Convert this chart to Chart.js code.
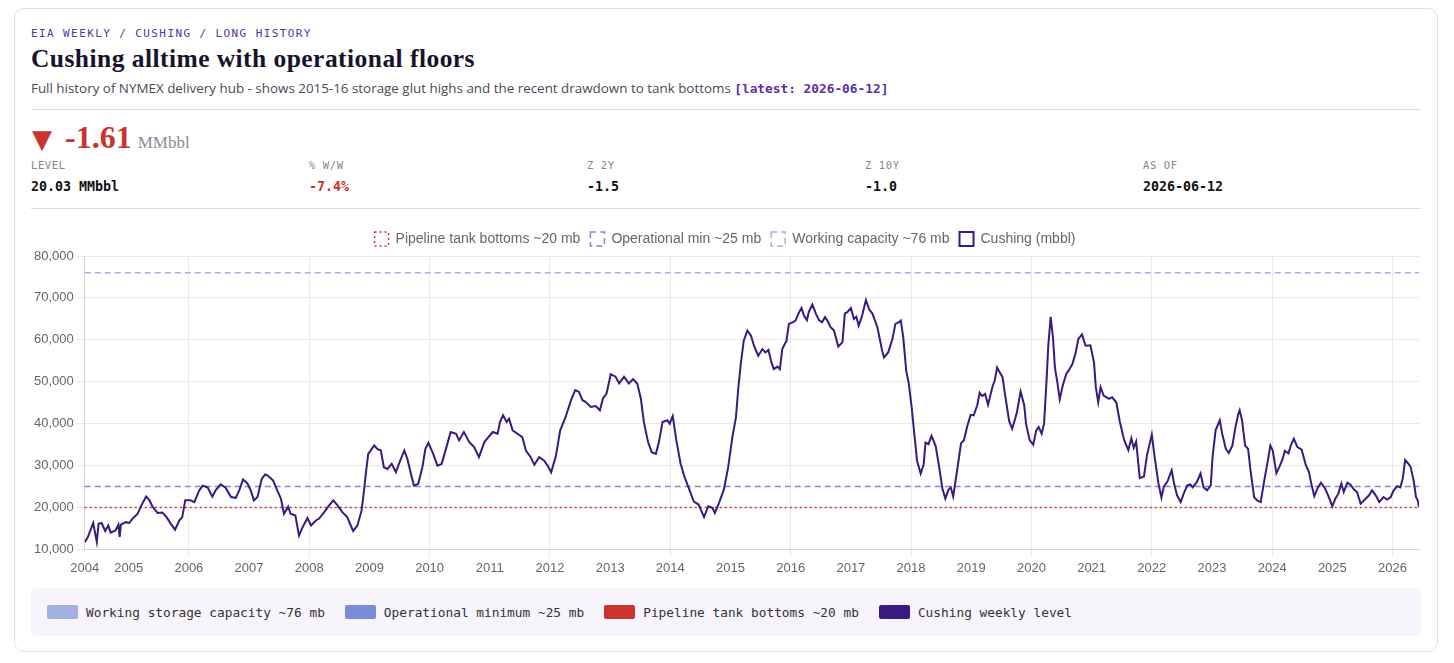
<!DOCTYPE html>
<html>
<head>
<meta charset="utf-8">
<title>Cushing alltime with operational floors</title>
<script src="https://cdn.jsdelivr.net/npm/chart.js@4.4.1/dist/chart.umd.min.js"></script>
<style>
  body { margin: 0; background: #fff; font-family: "Open Sans", "Noto Sans", sans-serif; }
  .card {
    position: absolute; left: 14px; top: 8px; width: 1390px; height: 611px;
    padding: 18px 16px 13px; border: 1px solid #e2dfea; border-radius: 10px; background: #fff;
  }
  .kicker { font: 11px/14px "DejaVu Sans Mono", monospace; letter-spacing: 1.4px; color: #5b2fa8; height: 14px; }
  h1 { margin: 4px 0 0; font: bold 25.5px/28px Georgia, "Liberation Serif", serif; letter-spacing: 0.45px; color: #17132b; }
  .sub { margin-top: 6px; font-size: 13.4px; line-height: 18px; color: #4a4a55; white-space: nowrap; }
  .sub .tag { font-family: "DejaVu Sans Mono", monospace; font-weight: bold; color: #5b2fa8; font-size: 12.8px; }
  .rule { height: 1px; background: #dcd8ea; }
  .delta { margin-top: 10px; height: 34px; line-height: 34px; color: #c9342f; }
  .delta .tri { font: 26px/34px "DejaVu Sans", sans-serif; margin-left: 1px; }
  .delta .num { font: bold 32px/34px Georgia, "Liberation Serif", serif; margin-left: 13px; }
  .delta .unit { font: 17px/34px Georgia, "Liberation Serif", serif; color: #8c8a9a; margin-left: 6px; }
  .stats { display: grid; grid-template-columns: repeat(5, 1fr); margin-top: 5px; height: 49px; }
  .stats .lab { font: 10.5px/13px "DejaVu Sans Mono", monospace; letter-spacing: 0.6px; color: #85838f; }
  .stats .val { margin-top: 6px; font: bold 13.3px/17px "DejaVu Sans Mono", monospace; color: #111; }
  .stats .neg { color: #c9342f; }
  .wrap { position: relative; width: 1390px; height: 357px; margin-top: 13px; }
  .keys {
    display: flex; align-items: center; height: 48px; margin-top: 9px; padding: 0 16px;
    background: #f7f5fb; border-radius: 6px; font: 12.8px "DejaVu Sans Mono", monospace; color: #333;
  }
  .keys span.sw { display: inline-block; width: 31px; height: 14px; border-radius: 2px; margin-right: 8px; vertical-align: -2px; }
  .keys .item { margin-right: 20px; }
</style>
</head>
<body>
<div class="card">
  <div class="kicker">EIA WEEKLY / CUSHING / LONG HISTORY</div>
  <h1>Cushing alltime with operational floors</h1>
  <div class="sub">Full history of NYMEX delivery hub - shows 2015-16 storage glut highs and the recent drawdown to tank bottoms <span class="tag">[latest: 2026-06-12]</span></div>
  <div class="rule" style="margin-top:11px"></div>
  <div class="delta"><span class="tri">&#9660;</span><span class="num">-1.61</span><span class="unit">MMbbl</span></div>
  <div class="stats">
    <div><div class="lab">LEVEL</div><div class="val">20.03 MMbbl</div></div>
    <div><div class="lab">% W/W</div><div class="val neg">-7.4%</div></div>
    <div><div class="lab">Z 2Y</div><div class="val">-1.5</div></div>
    <div><div class="lab">Z 10Y</div><div class="val">-1.0</div></div>
    <div><div class="lab">AS OF</div><div class="val">2026-06-12</div></div>
  </div>
  <div class="rule"></div>
  <div class="wrap"><canvas id="myChart"></canvas></div>
  <div class="keys">
    <div class="item"><span class="sw" style="background:#a3b1e3"></span>Working storage capacity ~76 mb</div>
    <div class="item"><span class="sw" style="background:#7b8bd6"></span>Operational minimum ~25 mb</div>
    <div class="item"><span class="sw" style="background:#c9342f"></span>Pipeline tank bottoms ~20 mb</div>
    <div class="item"><span class="sw" style="background:#3b1a80"></span>Cushing weekly level</div>
  </div>
</div>
<script>
// weekly samples, as fractional years
const years = [
  2004.27, 2004.32, 2004.41, 2004.47, 2004.50, 2004.55, 2004.61, 2004.66, 2004.70, 2004.78,
  2004.83, 2004.85, 2004.87, 2004.95, 2005.01, 2005.06, 2005.15, 2005.20, 2005.29, 2005.34,
  2005.40, 2005.48, 2005.56, 2005.63, 2005.70, 2005.77, 2005.84, 2005.89, 2005.94, 2006.03,
  2006.09, 2006.17, 2006.23, 2006.31, 2006.39, 2006.45, 2006.53, 2006.61, 2006.70, 2006.78,
  2006.84, 2006.90, 2006.97, 2007.03, 2007.08, 2007.14, 2007.21, 2007.27, 2007.33, 2007.40,
  2007.47, 2007.53, 2007.58, 2007.65, 2007.69, 2007.77, 2007.83, 2007.89, 2007.97, 2008.03,
  2008.11, 2008.16, 2008.25, 2008.33, 2008.40, 2008.47, 2008.55, 2008.63, 2008.69, 2008.73,
  2008.80, 2008.87, 2008.90, 2008.94, 2008.98, 2009.08, 2009.13, 2009.19, 2009.24, 2009.30,
  2009.37, 2009.44, 2009.49, 2009.58, 2009.63, 2009.69, 2009.74, 2009.81, 2009.88, 2009.93,
  2009.98, 2010.06, 2010.13, 2010.20, 2010.28, 2010.35, 2010.44, 2010.49, 2010.57, 2010.66,
  2010.74, 2010.82, 2010.91, 2010.99, 2011.05, 2011.13, 2011.17, 2011.22, 2011.28, 2011.32,
  2011.38, 2011.46, 2011.54, 2011.60, 2011.68, 2011.74, 2011.82, 2011.90, 2011.96, 2012.02,
  2012.10, 2012.17, 2012.26, 2012.35, 2012.42, 2012.48, 2012.54, 2012.59, 2012.68, 2012.76,
  2012.83, 2012.88, 2012.94, 2013.01, 2013.09, 2013.15, 2013.23, 2013.31, 2013.38, 2013.45,
  2013.51, 2013.56, 2013.63, 2013.69, 2013.76, 2013.81, 2013.87, 2013.95, 2013.99, 2014.04,
  2014.10, 2014.17, 2014.23, 2014.31, 2014.39, 2014.47, 2014.56, 2014.63, 2014.70, 2014.74,
  2014.81, 2014.89, 2014.96, 2015.03, 2015.09, 2015.13, 2015.17, 2015.22, 2015.28, 2015.34,
  2015.39, 2015.46, 2015.53, 2015.58, 2015.63, 2015.68, 2015.72, 2015.78, 2015.82, 2015.86,
  2015.93, 2015.97, 2016.04, 2016.08, 2016.14, 2016.18, 2016.22, 2016.27, 2016.30, 2016.36,
  2016.42, 2016.47, 2016.52, 2016.57, 2016.61, 2016.66, 2016.72, 2016.79, 2016.86, 2016.90,
  2016.94, 2017.00, 2017.05, 2017.09, 2017.13, 2017.18, 2017.25, 2017.30, 2017.36, 2017.44,
  2017.48, 2017.52, 2017.55, 2017.62, 2017.69, 2017.74, 2017.80, 2017.83, 2017.87, 2017.92,
  2017.96, 2018.01, 2018.06, 2018.10, 2018.16, 2018.21, 2018.24, 2018.29, 2018.34, 2018.41,
  2018.46, 2018.52, 2018.57, 2018.62, 2018.66, 2018.70, 2018.77, 2018.83, 2018.88, 2018.93,
  2018.99, 2019.04, 2019.10, 2019.14, 2019.18, 2019.23, 2019.28, 2019.35, 2019.39, 2019.43,
  2019.47, 2019.52, 2019.56, 2019.63, 2019.68, 2019.73, 2019.76, 2019.82, 2019.88, 2019.91,
  2019.97, 2020.03, 2020.08, 2020.12, 2020.17, 2020.21, 2020.25, 2020.28, 2020.32, 2020.36,
  2020.39, 2020.43, 2020.47, 2020.52, 2020.58, 2020.62, 2020.68, 2020.73, 2020.78, 2020.84,
  2020.90, 2020.98, 2021.04, 2021.07, 2021.11, 2021.15, 2021.20, 2021.29, 2021.34, 2021.41,
  2021.47, 2021.54, 2021.61, 2021.66, 2021.70, 2021.74, 2021.80, 2021.87, 2021.92, 2022.00,
  2022.05, 2022.11, 2022.16, 2022.20, 2022.26, 2022.33, 2022.37, 2022.42, 2022.48, 2022.53,
  2022.59, 2022.64, 2022.68, 2022.75, 2022.81, 2022.86, 2022.92, 2022.98, 2023.01, 2023.06,
  2023.13, 2023.17, 2023.23, 2023.28, 2023.34, 2023.39, 2023.44, 2023.46, 2023.50, 2023.55,
  2023.60, 2023.64, 2023.70, 2023.75, 2023.81, 2023.86, 2023.92, 2023.97, 2024.01, 2024.07,
  2024.12, 2024.17, 2024.21, 2024.27, 2024.32, 2024.36, 2024.42, 2024.49, 2024.56, 2024.61,
  2024.65, 2024.70, 2024.76, 2024.81, 2024.88, 2024.93, 2025.00, 2025.05, 2025.10, 2025.15,
  2025.19, 2025.25, 2025.30, 2025.36, 2025.41, 2025.47, 2025.54, 2025.61, 2025.66, 2025.72,
  2025.78, 2025.85, 2025.91, 2025.97, 2026.02, 2026.08, 2026.13, 2026.17, 2026.21, 2026.26,
  2026.30, 2026.35, 2026.39, 2026.42, 2026.44
];

// Cushing stocks, thousand barrels
const cushing = [
  11700, 12900, 16300, 11800, 16100, 16300, 14400, 15700, 14000, 14500,
  15900, 13000, 15900, 16500, 16300, 17300, 18500, 20200, 22600, 21800,
  20100, 18700, 18800, 17700, 16100, 14700, 16900, 17700, 21700, 21700,
  21300, 24000, 25200, 24800, 22600, 24200, 25500, 24700, 22500, 22300,
  24200, 26700, 25800, 24000, 21700, 22500, 26800, 27900, 27400, 26400,
  24000, 22100, 18500, 20200, 18500, 18100, 13300, 15300, 17500, 15700,
  16900, 17300, 18900, 20500, 21700, 20500, 18900, 17700, 15700, 14400,
  15700, 19300, 22800, 28000, 32800, 34800, 34000, 33600, 29600, 29200,
  30400, 28400, 30400, 33600, 31600, 28000, 25200, 25600, 29600, 34000,
  35400, 32800, 30000, 30400, 34400, 38000, 37600, 36000, 38000, 35600,
  34400, 32000, 35600, 37000, 38000, 37600, 40400, 42000, 40400, 41200,
  38400, 37600, 36800, 33600, 32000, 30200, 32000, 31200, 30000, 28400,
  32400, 38400, 41600, 45600, 48000, 47600, 45600, 45200, 44000, 44200,
  43200, 46000, 47200, 51800, 51200, 49600, 51200, 49600, 50600, 49600,
  46000, 40400, 35600, 33200, 32800, 35600, 40400, 40800, 40000, 41800,
  36000, 30500, 27500, 24500, 21400, 20700, 17700, 20300, 19900, 18700,
  21100, 24300, 29500, 36700, 41500, 48600, 54200, 59800, 62200, 61000,
  58600, 56200, 57800, 57000, 57600, 54600, 53000, 53600, 53000, 57800,
  59800, 63800, 64200, 64600, 66600, 67600, 65800, 64700, 66600, 68400,
  66200, 64700, 64200, 65400, 64600, 63100, 62200, 58400, 59400, 66300,
  66600, 67600, 65000, 65500, 63400, 65400, 69500, 67400, 66200, 63000,
  60200, 57400, 55800, 57000, 60200, 63800, 64200, 64600, 60600, 52600,
  49800, 43900, 36700, 31100, 28100, 30300, 35500, 35100, 37100, 34600,
  30300, 24600, 22100, 24200, 24800, 22600, 29300, 35300, 36100, 39200,
  42100, 42000, 44400, 47400, 46600, 47100, 44500, 48700, 50300, 53400,
  52300, 51100, 47100, 40600, 38800, 41200, 42800, 47700, 44400, 40000,
  36100, 35000, 38400, 39200, 37600, 40000, 49900, 58600, 65500, 60200,
  53400, 49900, 45800, 49100, 51900, 52700, 54200, 56600, 60200, 61300,
  58600, 58700, 54600, 48700, 45100, 48700, 46700, 45900, 46300, 45100,
  40400, 36100, 33700, 36500, 34200, 35700, 27000, 27400, 32500, 37400,
  31700, 25800, 22400, 25000, 26200, 28900, 25700, 22900, 21300, 23300,
  25300, 25500, 24800, 26100, 28100, 24800, 24100, 25300, 32100, 38400,
  40800, 37600, 34000, 33000, 34800, 39200, 42400, 43200, 40800, 34800,
  34000, 28900, 22500, 21700, 21300, 25700, 30500, 34800, 33600, 28200,
  29700, 31400, 33500, 32900, 35200, 36400, 34400, 33800, 30100, 28500,
  25700, 22700, 24800, 25900, 24500, 22900, 20300, 22100, 23300, 25700,
  23700, 25900, 25500, 24300, 23700, 20900, 21900, 22900, 24100, 22900,
  21300, 22500, 21900, 22500, 24100, 25100, 24800, 26900, 31300, 30500,
  29700, 26500, 22500, 21640, 20030
];

const yearTicks = [2004, 2005, 2006, 2007, 2008, 2009, 2010, 2011, 2012, 2013, 2014,
  2015, 2016, 2017, 2018, 2019, 2020, 2021, 2022, 2023, 2024, 2025, 2026];
const levelTicks = [10000, 20000, 30000, 40000, 50000, 60000, 70000, 80000];

const tankBottoms = 20000;
const operationalMin = 25000;
const workingCapacity = 76000;

const first = years[0];
const last = years[years.length - 1];
const flat = v => [{ x: first, y: v }, { x: last, y: v }];

const ctx = document.getElementById('myChart').getContext('2d');
const myChart = new Chart(ctx, {
  type: 'line',
  data: {
    datasets: [
      {
        label: 'Pipeline tank bottoms ~20 mb',
        data: flat(tankBottoms),
        borderColor: '#c9342f',
        backgroundColor: 'transparent',
        borderWidth: 1.5,
        borderDash: [2, 3],
        pointRadius: 0
      },
      {
        label: 'Operational min ~25 mb',
        data: flat(operationalMin),
        borderColor: '#7b8bd6',
        backgroundColor: 'transparent',
        borderWidth: 1.5,
        borderDash: [6, 4],
        pointRadius: 0
      },
      {
        label: 'Working capacity ~76 mb',
        data: flat(workingCapacity),
        borderColor: '#a3b1e3',
        backgroundColor: 'transparent',
        borderWidth: 1.5,
        borderDash: [6, 4],
        pointRadius: 0
      },
      {
        label: 'Cushing (mbbl)',
        data: years.map((y, i) => ({ x: y, y: cushing[i] })),
        borderColor: '#3b1a80',
        backgroundColor: 'transparent',
        borderWidth: 2,
        pointRadius: 0,
        tension: 0,
        order: -1
      }
    ]
  },
  options: {
    responsive: true,
    maintainAspectRatio: false,
    animation: false,
    layout: { padding: { left: 0, right: 2 } },
    plugins: {
      tooltip: { enabled: false },
      legend: {
        labels: {
          boxWidth: 14,
          boxHeight: 14,
          color: '#666',
          font: { size: 14 },
          sort: (a, b) => a.datasetIndex - b.datasetIndex
        }
      }
    },
    scales: {
      x: {
        type: 'linear',
        min: first,
        max: last,
        afterBuildTicks: axis => {
          axis.ticks = yearTicks.map(v => ({ value: Math.max(v, first) }));
        },
        ticks: {
          autoSkip: false,
          maxRotation: 0,
          color: '#666',
          font: { size: 13 },
          callback: v => String(Math.floor(v))
        },
        grid: {
          color: c => (c.tick && Number.isInteger(c.tick.value) && c.tick.value % 2 === 0) ? '#e9e9e9' : 'transparent'
        },
        border: { color: '#d4d4d4' }
      },
      y: {
        min: 10000,
        max: 80000,
        afterBuildTicks: axis => {
          axis.ticks = levelTicks.map(v => ({ value: v }));
        },
        ticks: { color: '#666', font: { size: 13 } },
        grid: { color: '#e9e9e9' },
        border: { color: '#d4d4d4' }
      }
    }
  }
});
</script>
</body>
</html>
